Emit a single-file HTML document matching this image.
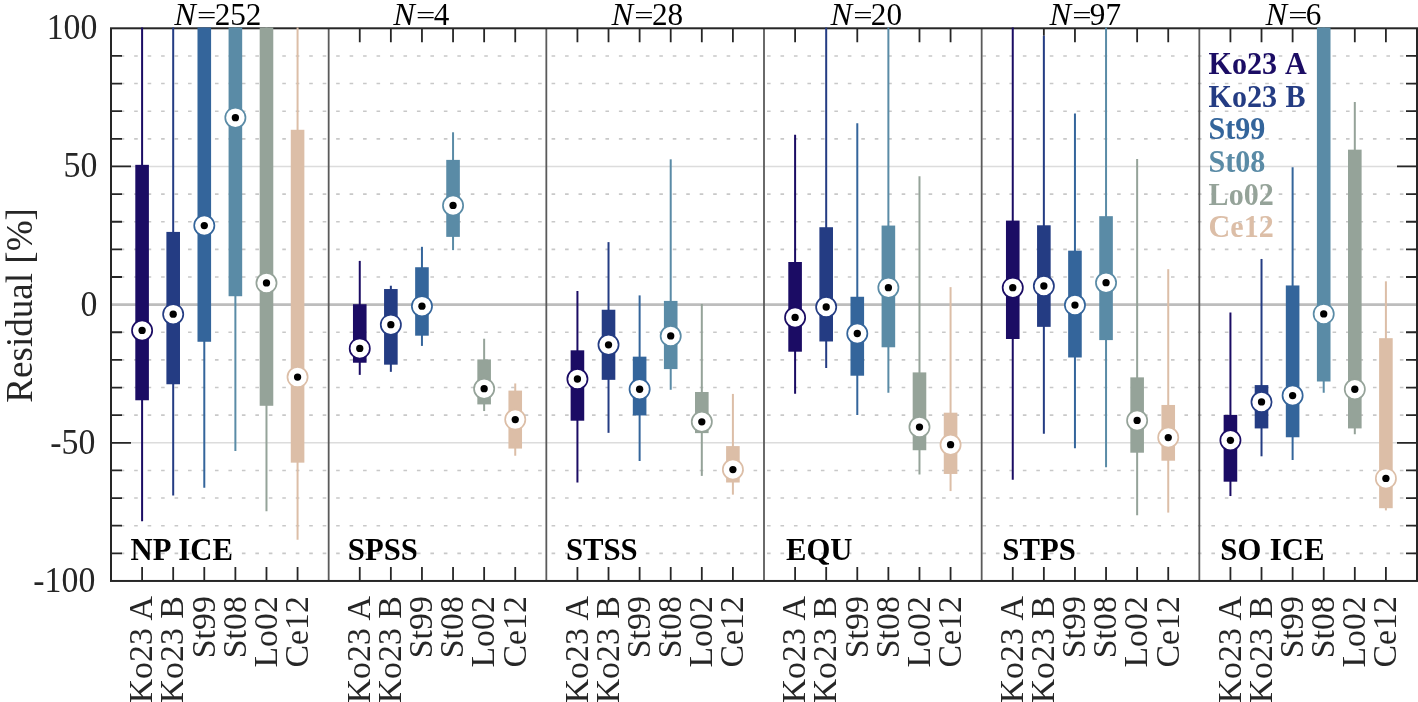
<!DOCTYPE html><html><head><meta charset="utf-8"><style>html,body{margin:0;padding:0;background:#fff;width:1418px;height:702px;overflow:hidden}svg{display:block;will-change:transform}text{font-family:"Liberation Serif",serif}</style></head><body>
<svg width="1418" height="702" viewBox="0 0 1418 702">
<rect x="0" y="0" width="1418" height="702" fill="#fff"/>
<line x1="111.00" y1="553.33" x2="1417.00" y2="553.33" stroke="#c8c8c8" stroke-width="1.6" stroke-dasharray="3.6 9.865" stroke-dashoffset="3.765"/>
<line x1="111.00" y1="525.69" x2="1417.00" y2="525.69" stroke="#c8c8c8" stroke-width="1.6" stroke-dasharray="3.6 9.865" stroke-dashoffset="3.765"/>
<line x1="111.00" y1="498.06" x2="1417.00" y2="498.06" stroke="#c8c8c8" stroke-width="1.6" stroke-dasharray="3.6 9.865" stroke-dashoffset="3.765"/>
<line x1="111.00" y1="470.43" x2="1417.00" y2="470.43" stroke="#c8c8c8" stroke-width="1.6" stroke-dasharray="3.6 9.865" stroke-dashoffset="3.765"/>
<line x1="111.00" y1="415.16" x2="1417.00" y2="415.16" stroke="#c8c8c8" stroke-width="1.6" stroke-dasharray="3.6 9.865" stroke-dashoffset="3.765"/>
<line x1="111.00" y1="387.53" x2="1417.00" y2="387.53" stroke="#c8c8c8" stroke-width="1.6" stroke-dasharray="3.6 9.865" stroke-dashoffset="3.765"/>
<line x1="111.00" y1="359.90" x2="1417.00" y2="359.90" stroke="#c8c8c8" stroke-width="1.6" stroke-dasharray="3.6 9.865" stroke-dashoffset="3.765"/>
<line x1="111.00" y1="332.26" x2="1417.00" y2="332.26" stroke="#c8c8c8" stroke-width="1.6" stroke-dasharray="3.6 9.865" stroke-dashoffset="3.765"/>
<line x1="111.00" y1="277.00" x2="1417.00" y2="277.00" stroke="#c8c8c8" stroke-width="1.6" stroke-dasharray="3.6 9.865" stroke-dashoffset="3.765"/>
<line x1="111.00" y1="249.36" x2="1417.00" y2="249.36" stroke="#c8c8c8" stroke-width="1.6" stroke-dasharray="3.6 9.865" stroke-dashoffset="3.765"/>
<line x1="111.00" y1="221.73" x2="1417.00" y2="221.73" stroke="#c8c8c8" stroke-width="1.6" stroke-dasharray="3.6 9.865" stroke-dashoffset="3.765"/>
<line x1="111.00" y1="194.10" x2="1417.00" y2="194.10" stroke="#c8c8c8" stroke-width="1.6" stroke-dasharray="3.6 9.865" stroke-dashoffset="3.765"/>
<line x1="111.00" y1="138.83" x2="1417.00" y2="138.83" stroke="#c8c8c8" stroke-width="1.6" stroke-dasharray="3.6 9.865" stroke-dashoffset="3.765"/>
<line x1="111.00" y1="111.20" x2="1417.00" y2="111.20" stroke="#c8c8c8" stroke-width="1.6" stroke-dasharray="3.6 9.865" stroke-dashoffset="3.765"/>
<line x1="111.00" y1="83.57" x2="1417.00" y2="83.57" stroke="#c8c8c8" stroke-width="1.6" stroke-dasharray="3.6 9.865" stroke-dashoffset="3.765"/>
<line x1="111.00" y1="55.93" x2="1417.00" y2="55.93" stroke="#c8c8c8" stroke-width="1.6" stroke-dasharray="3.6 9.865" stroke-dashoffset="3.765"/>
<line x1="111.00" y1="442.79" x2="1417.00" y2="442.79" stroke="#dcdcdc" stroke-width="1.6"/>
<line x1="111.00" y1="166.47" x2="1417.00" y2="166.47" stroke="#dcdcdc" stroke-width="1.6"/>
<path d="M111.00 553.33h11M1417.00 553.33h-11M111.00 525.69h11M1417.00 525.69h-11M111.00 498.06h11M1417.00 498.06h-11M111.00 470.43h11M1417.00 470.43h-11M111.00 442.79h20M1417.00 442.79h-20M111.00 415.16h11M1417.00 415.16h-11M111.00 387.53h11M1417.00 387.53h-11M111.00 359.90h11M1417.00 359.90h-11M111.00 332.26h11M1417.00 332.26h-11M111.00 277.00h11M1417.00 277.00h-11M111.00 249.36h11M1417.00 249.36h-11M111.00 221.73h11M1417.00 221.73h-11M111.00 194.10h11M1417.00 194.10h-11M111.00 166.47h20M1417.00 166.47h-20M111.00 138.83h11M1417.00 138.83h-11M111.00 111.20h11M1417.00 111.20h-11M111.00 83.57h11M1417.00 83.57h-11M111.00 55.93h11M1417.00 55.93h-11M142.10 580.96v-14M173.19 580.96v-14M204.29 580.96v-14M235.38 580.96v-14M266.48 580.96v-14M297.57 580.96v-14M359.76 580.96v-14M359.76 28.30v14.00M390.86 580.96v-14M390.86 28.30v14.00M421.95 580.96v-14M421.95 28.30v14.00M453.05 580.96v-14M453.05 28.30v14.00M484.14 580.96v-14M484.14 28.30v14.00M515.24 580.96v-14M515.24 28.30v14.00M577.43 580.96v-14M577.43 28.30v14.00M608.52 580.96v-14M608.52 28.30v14.00M639.62 580.96v-14M639.62 28.30v14.00M670.71 580.96v-14M670.71 28.30v14.00M701.81 580.96v-14M701.81 28.30v14.00M732.90 580.96v-14M732.90 28.30v14.00M795.10 580.96v-14M795.10 28.30v14.00M826.19 580.96v-14M857.29 580.96v-14M857.29 28.30v14.00M888.38 580.96v-14M919.48 580.96v-14M919.48 28.30v14.00M950.57 580.96v-14M950.57 28.30v14.00M1012.76 580.96v-14M1043.86 580.96v-14M1043.86 28.30v7.38M1074.95 580.96v-14M1074.95 28.30v14.00M1106.05 580.96v-14M1137.14 580.96v-14M1137.14 28.30v14.00M1168.24 580.96v-14M1168.24 28.30v14.00M1230.43 580.96v-14M1230.43 28.30v14.00M1261.52 580.96v-14M1261.52 28.30v14.00M1292.62 580.96v-14M1292.62 28.30v14.00M1323.71 580.96v-14M1354.81 580.96v-14M1354.81 28.30v14.00M1385.90 580.96v-14M1385.90 28.30v14.00" stroke="#262626" stroke-width="1.8" fill="none"/>
<line x1="111.00" y1="304.63" x2="1417.00" y2="304.63" stroke="#bdbdbd" stroke-width="2.6"/>
<line x1="328.67" y1="28.30" x2="328.67" y2="580.96" stroke="#5a5a5a" stroke-width="1.8"/>
<line x1="546.33" y1="28.30" x2="546.33" y2="580.96" stroke="#5a5a5a" stroke-width="1.8"/>
<line x1="764.00" y1="28.30" x2="764.00" y2="580.96" stroke="#5a5a5a" stroke-width="1.8"/>
<line x1="981.67" y1="28.30" x2="981.67" y2="580.96" stroke="#5a5a5a" stroke-width="1.8"/>
<line x1="1199.33" y1="28.30" x2="1199.33" y2="580.96" stroke="#5a5a5a" stroke-width="1.8"/>
<rect x="111.00" y="28.30" width="1306.00" height="552.66" fill="none" stroke="#262626" stroke-width="2"/>
<line x1="142.10" y1="521.16" x2="142.10" y2="27.50" stroke="#1b0c64" stroke-width="2"/>
<rect x="135.30" y="164.84" width="13.6" height="235.43" fill="#1b0c64"/>
<line x1="173.19" y1="495.49" x2="173.19" y2="27.50" stroke="#243c83" stroke-width="2"/>
<rect x="166.39" y="231.91" width="13.6" height="152.35" fill="#243c83"/>
<line x1="204.29" y1="487.76" x2="204.29" y2="27.50" stroke="#34659b" stroke-width="2"/>
<rect x="197.49" y="27.50" width="13.6" height="314.26" fill="#34659b"/>
<line x1="235.38" y1="451.06" x2="235.38" y2="27.50" stroke="#5a8ba6" stroke-width="2"/>
<rect x="228.58" y="27.50" width="13.6" height="268.72" fill="#5a8ba6"/>
<line x1="266.48" y1="511.22" x2="266.48" y2="27.50" stroke="#95a399" stroke-width="2"/>
<rect x="259.68" y="27.50" width="13.6" height="378.29" fill="#95a399"/>
<line x1="297.57" y1="539.65" x2="297.57" y2="27.50" stroke="#dcbea7" stroke-width="2"/>
<rect x="290.77" y="129.79" width="13.6" height="332.86" fill="#dcbea7"/>
<line x1="359.76" y1="374.88" x2="359.76" y2="260.89" stroke="#1b0c64" stroke-width="2"/>
<rect x="352.96" y="304.22" width="13.6" height="58.51" fill="#1b0c64"/>
<line x1="390.86" y1="371.84" x2="390.86" y2="285.73" stroke="#243c83" stroke-width="2"/>
<rect x="384.06" y="289.04" width="13.6" height="75.62" fill="#243c83"/>
<line x1="421.95" y1="345.90" x2="421.95" y2="246.82" stroke="#34659b" stroke-width="2"/>
<rect x="415.15" y="267.24" width="13.6" height="68.45" fill="#34659b"/>
<line x1="453.05" y1="250.13" x2="453.05" y2="132.28" stroke="#5a8ba6" stroke-width="2"/>
<rect x="446.25" y="159.88" width="13.6" height="77.00" fill="#5a8ba6"/>
<line x1="484.14" y1="411.04" x2="484.14" y2="338.72" stroke="#95a399" stroke-width="2"/>
<rect x="477.34" y="359.42" width="13.6" height="44.99" fill="#95a399"/>
<line x1="515.24" y1="455.75" x2="515.24" y2="383.44" stroke="#dcbea7" stroke-width="2"/>
<rect x="508.44" y="390.61" width="13.6" height="57.96" fill="#dcbea7"/>
<line x1="577.43" y1="482.52" x2="577.43" y2="290.98" stroke="#1b0c64" stroke-width="2"/>
<rect x="570.63" y="350.32" width="13.6" height="70.38" fill="#1b0c64"/>
<line x1="608.52" y1="432.84" x2="608.52" y2="242.12" stroke="#243c83" stroke-width="2"/>
<rect x="601.72" y="309.74" width="13.6" height="70.10" fill="#243c83"/>
<line x1="639.62" y1="460.99" x2="639.62" y2="295.39" stroke="#34659b" stroke-width="2"/>
<rect x="632.82" y="356.66" width="13.6" height="58.79" fill="#34659b"/>
<line x1="670.71" y1="389.78" x2="670.71" y2="159.32" stroke="#5a8ba6" stroke-width="2"/>
<rect x="663.91" y="300.91" width="13.6" height="68.17" fill="#5a8ba6"/>
<line x1="701.81" y1="475.90" x2="701.81" y2="303.95" stroke="#95a399" stroke-width="2"/>
<rect x="695.01" y="391.99" width="13.6" height="41.12" fill="#95a399"/>
<line x1="732.90" y1="494.66" x2="732.90" y2="393.92" stroke="#dcbea7" stroke-width="2"/>
<rect x="726.10" y="446.09" width="13.6" height="36.43" fill="#dcbea7"/>
<line x1="795.10" y1="393.65" x2="795.10" y2="134.76" stroke="#1b0c64" stroke-width="2"/>
<rect x="788.30" y="262.00" width="13.6" height="89.70" fill="#1b0c64"/>
<line x1="826.19" y1="367.98" x2="826.19" y2="27.50" stroke="#243c83" stroke-width="2"/>
<rect x="819.39" y="227.22" width="13.6" height="114.26" fill="#243c83"/>
<line x1="857.29" y1="414.90" x2="857.29" y2="123.17" stroke="#34659b" stroke-width="2"/>
<rect x="850.49" y="296.77" width="13.6" height="78.94" fill="#34659b"/>
<line x1="888.38" y1="392.82" x2="888.38" y2="27.50" stroke="#5a8ba6" stroke-width="2"/>
<rect x="881.58" y="225.56" width="13.6" height="121.72" fill="#5a8ba6"/>
<line x1="919.48" y1="474.52" x2="919.48" y2="176.16" stroke="#95a399" stroke-width="2"/>
<rect x="912.68" y="372.40" width="13.6" height="77.83" fill="#95a399"/>
<line x1="950.57" y1="491.08" x2="950.57" y2="287.11" stroke="#dcbea7" stroke-width="2"/>
<rect x="943.77" y="412.69" width="13.6" height="61.27" fill="#dcbea7"/>
<line x1="1012.76" y1="479.76" x2="1012.76" y2="27.50" stroke="#1b0c64" stroke-width="2"/>
<rect x="1005.96" y="220.60" width="13.6" height="118.40" fill="#1b0c64"/>
<line x1="1043.86" y1="433.67" x2="1043.86" y2="35.68" stroke="#243c83" stroke-width="2"/>
<rect x="1037.06" y="225.29" width="13.6" height="101.57" fill="#243c83"/>
<line x1="1074.95" y1="448.30" x2="1074.95" y2="113.51" stroke="#34659b" stroke-width="2"/>
<rect x="1068.15" y="250.68" width="13.6" height="106.81" fill="#34659b"/>
<line x1="1106.05" y1="467.34" x2="1106.05" y2="27.50" stroke="#5a8ba6" stroke-width="2"/>
<rect x="1099.25" y="216.18" width="13.6" height="123.92" fill="#5a8ba6"/>
<line x1="1137.14" y1="515.36" x2="1137.14" y2="159.05" stroke="#95a399" stroke-width="2"/>
<rect x="1130.34" y="377.36" width="13.6" height="75.35" fill="#95a399"/>
<line x1="1168.24" y1="512.60" x2="1168.24" y2="269.17" stroke="#dcbea7" stroke-width="2"/>
<rect x="1161.44" y="404.96" width="13.6" height="55.75" fill="#dcbea7"/>
<line x1="1230.43" y1="496.04" x2="1230.43" y2="312.50" stroke="#1b0c64" stroke-width="2"/>
<rect x="1223.63" y="414.90" width="13.6" height="66.79" fill="#1b0c64"/>
<line x1="1261.52" y1="456.30" x2="1261.52" y2="258.96" stroke="#243c83" stroke-width="2"/>
<rect x="1254.72" y="385.09" width="13.6" height="43.33" fill="#243c83"/>
<line x1="1292.62" y1="459.89" x2="1292.62" y2="167.33" stroke="#34659b" stroke-width="2"/>
<rect x="1285.82" y="285.46" width="13.6" height="151.80" fill="#34659b"/>
<line x1="1323.71" y1="392.82" x2="1323.71" y2="27.50" stroke="#5a8ba6" stroke-width="2"/>
<rect x="1316.91" y="27.50" width="13.6" height="354.00" fill="#5a8ba6"/>
<line x1="1354.81" y1="434.22" x2="1354.81" y2="101.92" stroke="#95a399" stroke-width="2"/>
<rect x="1348.01" y="149.66" width="13.6" height="278.76" fill="#95a399"/>
<line x1="1385.90" y1="510.40" x2="1385.90" y2="281.32" stroke="#dcbea7" stroke-width="2"/>
<rect x="1379.10" y="338.17" width="13.6" height="170.02" fill="#dcbea7"/>
<ellipse cx="142.10" cy="330.44" rx="10.1" ry="10.1" fill="#fff" stroke="#1b0c64" stroke-width="1.7"/>
<circle cx="142.10" cy="330.44" r="3.65" fill="#000"/>
<ellipse cx="173.19" cy="314.16" rx="10.1" ry="10.1" fill="#fff" stroke="#243c83" stroke-width="1.7"/>
<circle cx="173.19" cy="314.16" r="3.65" fill="#000"/>
<ellipse cx="204.29" cy="225.56" rx="10.1" ry="10.1" fill="#fff" stroke="#34659b" stroke-width="1.7"/>
<circle cx="204.29" cy="225.56" r="3.65" fill="#000"/>
<ellipse cx="235.38" cy="117.65" rx="10.1" ry="10.1" fill="#fff" stroke="#5a8ba6" stroke-width="1.7"/>
<circle cx="235.38" cy="117.65" r="3.65" fill="#000"/>
<ellipse cx="266.48" cy="282.97" rx="10.1" ry="10.1" fill="#fff" stroke="#95a399" stroke-width="1.7"/>
<circle cx="266.48" cy="282.97" r="3.65" fill="#000"/>
<ellipse cx="297.57" cy="377.09" rx="10.1" ry="10.1" fill="#fff" stroke="#dcbea7" stroke-width="1.7"/>
<circle cx="297.57" cy="377.09" r="3.65" fill="#000"/>
<ellipse cx="359.76" cy="348.38" rx="10.1" ry="10.1" fill="#fff" stroke="#1b0c64" stroke-width="1.7"/>
<circle cx="359.76" cy="348.38" r="3.65" fill="#000"/>
<ellipse cx="390.86" cy="324.65" rx="10.1" ry="10.1" fill="#fff" stroke="#243c83" stroke-width="1.7"/>
<circle cx="390.86" cy="324.65" r="3.65" fill="#000"/>
<ellipse cx="421.95" cy="306.16" rx="10.1" ry="10.1" fill="#fff" stroke="#34659b" stroke-width="1.7"/>
<circle cx="421.95" cy="306.16" r="3.65" fill="#000"/>
<ellipse cx="453.05" cy="205.42" rx="10.1" ry="10.1" fill="#fff" stroke="#5a8ba6" stroke-width="1.7"/>
<circle cx="453.05" cy="205.42" r="3.65" fill="#000"/>
<ellipse cx="484.14" cy="388.68" rx="10.1" ry="10.1" fill="#fff" stroke="#95a399" stroke-width="1.7"/>
<circle cx="484.14" cy="388.68" r="3.65" fill="#000"/>
<ellipse cx="515.24" cy="419.59" rx="10.1" ry="10.1" fill="#fff" stroke="#dcbea7" stroke-width="1.7"/>
<circle cx="515.24" cy="419.59" r="3.65" fill="#000"/>
<ellipse cx="577.43" cy="379.02" rx="10.1" ry="10.1" fill="#fff" stroke="#1b0c64" stroke-width="1.7"/>
<circle cx="577.43" cy="379.02" r="3.65" fill="#000"/>
<ellipse cx="608.52" cy="344.80" rx="10.1" ry="10.1" fill="#fff" stroke="#243c83" stroke-width="1.7"/>
<circle cx="608.52" cy="344.80" r="3.65" fill="#000"/>
<ellipse cx="639.62" cy="389.23" rx="10.1" ry="10.1" fill="#fff" stroke="#34659b" stroke-width="1.7"/>
<circle cx="639.62" cy="389.23" r="3.65" fill="#000"/>
<ellipse cx="670.71" cy="335.96" rx="10.1" ry="10.1" fill="#fff" stroke="#5a8ba6" stroke-width="1.7"/>
<circle cx="670.71" cy="335.96" r="3.65" fill="#000"/>
<ellipse cx="701.81" cy="421.80" rx="10.1" ry="10.1" fill="#fff" stroke="#95a399" stroke-width="1.7"/>
<circle cx="701.81" cy="421.80" r="3.65" fill="#000"/>
<ellipse cx="732.90" cy="469.55" rx="10.1" ry="10.1" fill="#fff" stroke="#dcbea7" stroke-width="1.7"/>
<circle cx="732.90" cy="469.55" r="3.65" fill="#000"/>
<ellipse cx="795.10" cy="317.47" rx="10.1" ry="10.1" fill="#fff" stroke="#1b0c64" stroke-width="1.7"/>
<circle cx="795.10" cy="317.47" r="3.65" fill="#000"/>
<ellipse cx="826.19" cy="306.98" rx="10.1" ry="10.1" fill="#fff" stroke="#243c83" stroke-width="1.7"/>
<circle cx="826.19" cy="306.98" r="3.65" fill="#000"/>
<ellipse cx="857.29" cy="333.48" rx="10.1" ry="10.1" fill="#fff" stroke="#34659b" stroke-width="1.7"/>
<circle cx="857.29" cy="333.48" r="3.65" fill="#000"/>
<ellipse cx="888.38" cy="287.66" rx="10.1" ry="10.1" fill="#fff" stroke="#5a8ba6" stroke-width="1.7"/>
<circle cx="888.38" cy="287.66" r="3.65" fill="#000"/>
<ellipse cx="919.48" cy="427.04" rx="10.1" ry="10.1" fill="#fff" stroke="#95a399" stroke-width="1.7"/>
<circle cx="919.48" cy="427.04" r="3.65" fill="#000"/>
<ellipse cx="950.57" cy="444.71" rx="10.1" ry="10.1" fill="#fff" stroke="#dcbea7" stroke-width="1.7"/>
<circle cx="950.57" cy="444.71" r="3.65" fill="#000"/>
<ellipse cx="1012.76" cy="287.66" rx="10.1" ry="10.1" fill="#fff" stroke="#1b0c64" stroke-width="1.7"/>
<circle cx="1012.76" cy="287.66" r="3.65" fill="#000"/>
<ellipse cx="1043.86" cy="286.01" rx="10.1" ry="10.1" fill="#fff" stroke="#243c83" stroke-width="1.7"/>
<circle cx="1043.86" cy="286.01" r="3.65" fill="#000"/>
<ellipse cx="1074.95" cy="305.05" rx="10.1" ry="10.1" fill="#fff" stroke="#34659b" stroke-width="1.7"/>
<circle cx="1074.95" cy="305.05" r="3.65" fill="#000"/>
<ellipse cx="1106.05" cy="282.70" rx="10.1" ry="10.1" fill="#fff" stroke="#5a8ba6" stroke-width="1.7"/>
<circle cx="1106.05" cy="282.70" r="3.65" fill="#000"/>
<ellipse cx="1137.14" cy="420.42" rx="10.1" ry="10.1" fill="#fff" stroke="#95a399" stroke-width="1.7"/>
<circle cx="1137.14" cy="420.42" r="3.65" fill="#000"/>
<ellipse cx="1168.24" cy="437.53" rx="10.1" ry="10.1" fill="#fff" stroke="#dcbea7" stroke-width="1.7"/>
<circle cx="1168.24" cy="437.53" r="3.65" fill="#000"/>
<ellipse cx="1230.43" cy="440.29" rx="10.1" ry="10.1" fill="#fff" stroke="#1b0c64" stroke-width="1.7"/>
<circle cx="1230.43" cy="440.29" r="3.65" fill="#000"/>
<ellipse cx="1261.52" cy="401.93" rx="10.1" ry="10.1" fill="#fff" stroke="#243c83" stroke-width="1.7"/>
<circle cx="1261.52" cy="401.93" r="3.65" fill="#000"/>
<ellipse cx="1292.62" cy="395.58" rx="10.1" ry="10.1" fill="#fff" stroke="#34659b" stroke-width="1.7"/>
<circle cx="1292.62" cy="395.58" r="3.65" fill="#000"/>
<ellipse cx="1323.71" cy="313.88" rx="10.1" ry="10.1" fill="#fff" stroke="#5a8ba6" stroke-width="1.7"/>
<circle cx="1323.71" cy="313.88" r="3.65" fill="#000"/>
<ellipse cx="1354.81" cy="389.23" rx="10.1" ry="10.1" fill="#fff" stroke="#95a399" stroke-width="1.7"/>
<circle cx="1354.81" cy="389.23" r="3.65" fill="#000"/>
<ellipse cx="1385.90" cy="478.38" rx="10.1" ry="10.1" fill="#fff" stroke="#dcbea7" stroke-width="1.7"/>
<circle cx="1385.90" cy="478.38" r="3.65" fill="#000"/>
<text transform="translate(97.4 39.20) scale(0.966 1)" font-size="35.0" text-anchor="end" fill="#262626">100</text>
<text transform="translate(97.4 177.37) scale(0.966 1)" font-size="35.0" text-anchor="end" fill="#262626">50</text>
<text transform="translate(97.4 315.53) scale(0.966 1)" font-size="35.0" text-anchor="end" fill="#262626">0</text>
<text transform="translate(95.3 453.69) scale(0.966 1)" font-size="35.0" text-anchor="end" fill="#262626">-50</text>
<text transform="translate(95.3 591.86) scale(0.966 1)" font-size="35.0" text-anchor="end" fill="#262626">-100</text>
<text transform="translate(32.4 402.77) rotate(-90) scale(0.964 1)" font-size="38.5" fill="#262626">Residual [%]</text>
<text transform="translate(174.24 25.4) scale(1.04 1)" font-size="31.2" font-style="italic" fill="#000">N</text>
<text transform="translate(197.04 23.50) scale(1.1 0.78)" font-size="31.2" fill="#000">=</text>
<text x="214.63" y="25.4" font-size="31.2" fill="#000">252</text>
<text transform="translate(393.29 25.4) scale(1.04 1)" font-size="31.2" font-style="italic" fill="#000">N</text>
<text transform="translate(416.09 23.50) scale(1.1 0.78)" font-size="31.2" fill="#000">=</text>
<text x="433.68" y="25.4" font-size="31.2" fill="#000">4</text>
<text transform="translate(611.54 25.4) scale(1.04 1)" font-size="31.2" font-style="italic" fill="#000">N</text>
<text transform="translate(634.34 23.50) scale(1.1 0.78)" font-size="31.2" fill="#000">=</text>
<text x="651.93" y="25.4" font-size="31.2" fill="#000">28</text>
<text transform="translate(830.44 25.4) scale(1.04 1)" font-size="31.2" font-style="italic" fill="#000">N</text>
<text transform="translate(853.24 23.50) scale(1.1 0.78)" font-size="31.2" fill="#000">=</text>
<text x="870.83" y="25.4" font-size="31.2" fill="#000">20</text>
<text transform="translate(1049.44 25.4) scale(1.04 1)" font-size="31.2" font-style="italic" fill="#000">N</text>
<text transform="translate(1072.24 23.50) scale(1.1 0.78)" font-size="31.2" fill="#000">=</text>
<text x="1089.83" y="25.4" font-size="31.2" fill="#000">97</text>
<text transform="translate(1265.44 25.4) scale(1.04 1)" font-size="31.2" font-style="italic" fill="#000">N</text>
<text transform="translate(1288.24 23.50) scale(1.1 0.78)" font-size="31.2" fill="#000">=</text>
<text x="1305.83" y="25.4" font-size="31.2" fill="#000">6</text>
<text transform="translate(130.52 559.8) scale(0.975 1)" font-size="31.5" font-weight="bold" word-spacing="0.9" fill="#000">NP ICE</text>
<text transform="translate(347.87 559.8) scale(0.975 1)" font-size="31.5" font-weight="bold" word-spacing="0.9" fill="#000">SPSS</text>
<text transform="translate(565.97 559.8) scale(0.975 1)" font-size="31.5" font-weight="bold" word-spacing="0.9" fill="#000">STSS</text>
<text transform="translate(785.97 559.8) scale(0.975 1)" font-size="31.5" font-weight="bold" word-spacing="0.9" fill="#000">EQU</text>
<text transform="translate(1002.37 559.8) scale(0.975 1)" font-size="31.5" font-weight="bold" word-spacing="0.9" fill="#000">STPS</text>
<text transform="translate(1220.37 559.8) scale(0.975 1)" font-size="31.5" font-weight="bold" word-spacing="0.9" fill="#000">SO ICE</text>
<text transform="translate(152.40 596.2) rotate(-90) scale(1.0 1)" font-size="33.8" word-spacing="1.0" text-anchor="end" fill="#262626">Ko23 A</text>
<text transform="translate(183.49 596.2) rotate(-90) scale(1.0 1)" font-size="33.8" word-spacing="1.0" text-anchor="end" fill="#262626">Ko23 B</text>
<text transform="translate(214.59 596.2) rotate(-90) scale(1.0 1)" font-size="33.8" word-spacing="1.0" text-anchor="end" fill="#262626">St99</text>
<text transform="translate(245.68 596.2) rotate(-90) scale(1.0 1)" font-size="33.8" word-spacing="1.0" text-anchor="end" fill="#262626">St08</text>
<text transform="translate(276.78 596.2) rotate(-90) scale(1.0 1)" font-size="33.8" word-spacing="1.0" text-anchor="end" fill="#262626">Lo02</text>
<text transform="translate(307.87 596.2) rotate(-90) scale(1.0 1)" font-size="33.8" word-spacing="1.0" text-anchor="end" fill="#262626">Ce12</text>
<text transform="translate(370.06 596.2) rotate(-90) scale(1.0 1)" font-size="33.8" word-spacing="1.0" text-anchor="end" fill="#262626">Ko23 A</text>
<text transform="translate(401.16 596.2) rotate(-90) scale(1.0 1)" font-size="33.8" word-spacing="1.0" text-anchor="end" fill="#262626">Ko23 B</text>
<text transform="translate(432.25 596.2) rotate(-90) scale(1.0 1)" font-size="33.8" word-spacing="1.0" text-anchor="end" fill="#262626">St99</text>
<text transform="translate(463.35 596.2) rotate(-90) scale(1.0 1)" font-size="33.8" word-spacing="1.0" text-anchor="end" fill="#262626">St08</text>
<text transform="translate(494.44 596.2) rotate(-90) scale(1.0 1)" font-size="33.8" word-spacing="1.0" text-anchor="end" fill="#262626">Lo02</text>
<text transform="translate(525.54 596.2) rotate(-90) scale(1.0 1)" font-size="33.8" word-spacing="1.0" text-anchor="end" fill="#262626">Ce12</text>
<text transform="translate(587.73 596.2) rotate(-90) scale(1.0 1)" font-size="33.8" word-spacing="1.0" text-anchor="end" fill="#262626">Ko23 A</text>
<text transform="translate(618.82 596.2) rotate(-90) scale(1.0 1)" font-size="33.8" word-spacing="1.0" text-anchor="end" fill="#262626">Ko23 B</text>
<text transform="translate(649.92 596.2) rotate(-90) scale(1.0 1)" font-size="33.8" word-spacing="1.0" text-anchor="end" fill="#262626">St99</text>
<text transform="translate(681.01 596.2) rotate(-90) scale(1.0 1)" font-size="33.8" word-spacing="1.0" text-anchor="end" fill="#262626">St08</text>
<text transform="translate(712.11 596.2) rotate(-90) scale(1.0 1)" font-size="33.8" word-spacing="1.0" text-anchor="end" fill="#262626">Lo02</text>
<text transform="translate(743.20 596.2) rotate(-90) scale(1.0 1)" font-size="33.8" word-spacing="1.0" text-anchor="end" fill="#262626">Ce12</text>
<text transform="translate(805.40 596.2) rotate(-90) scale(1.0 1)" font-size="33.8" word-spacing="1.0" text-anchor="end" fill="#262626">Ko23 A</text>
<text transform="translate(836.49 596.2) rotate(-90) scale(1.0 1)" font-size="33.8" word-spacing="1.0" text-anchor="end" fill="#262626">Ko23 B</text>
<text transform="translate(867.59 596.2) rotate(-90) scale(1.0 1)" font-size="33.8" word-spacing="1.0" text-anchor="end" fill="#262626">St99</text>
<text transform="translate(898.68 596.2) rotate(-90) scale(1.0 1)" font-size="33.8" word-spacing="1.0" text-anchor="end" fill="#262626">St08</text>
<text transform="translate(929.78 596.2) rotate(-90) scale(1.0 1)" font-size="33.8" word-spacing="1.0" text-anchor="end" fill="#262626">Lo02</text>
<text transform="translate(960.87 596.2) rotate(-90) scale(1.0 1)" font-size="33.8" word-spacing="1.0" text-anchor="end" fill="#262626">Ce12</text>
<text transform="translate(1023.06 596.2) rotate(-90) scale(1.0 1)" font-size="33.8" word-spacing="1.0" text-anchor="end" fill="#262626">Ko23 A</text>
<text transform="translate(1054.16 596.2) rotate(-90) scale(1.0 1)" font-size="33.8" word-spacing="1.0" text-anchor="end" fill="#262626">Ko23 B</text>
<text transform="translate(1085.25 596.2) rotate(-90) scale(1.0 1)" font-size="33.8" word-spacing="1.0" text-anchor="end" fill="#262626">St99</text>
<text transform="translate(1116.35 596.2) rotate(-90) scale(1.0 1)" font-size="33.8" word-spacing="1.0" text-anchor="end" fill="#262626">St08</text>
<text transform="translate(1147.44 596.2) rotate(-90) scale(1.0 1)" font-size="33.8" word-spacing="1.0" text-anchor="end" fill="#262626">Lo02</text>
<text transform="translate(1178.54 596.2) rotate(-90) scale(1.0 1)" font-size="33.8" word-spacing="1.0" text-anchor="end" fill="#262626">Ce12</text>
<text transform="translate(1240.73 596.2) rotate(-90) scale(1.0 1)" font-size="33.8" word-spacing="1.0" text-anchor="end" fill="#262626">Ko23 A</text>
<text transform="translate(1271.82 596.2) rotate(-90) scale(1.0 1)" font-size="33.8" word-spacing="1.0" text-anchor="end" fill="#262626">Ko23 B</text>
<text transform="translate(1302.92 596.2) rotate(-90) scale(1.0 1)" font-size="33.8" word-spacing="1.0" text-anchor="end" fill="#262626">St99</text>
<text transform="translate(1334.01 596.2) rotate(-90) scale(1.0 1)" font-size="33.8" word-spacing="1.0" text-anchor="end" fill="#262626">St08</text>
<text transform="translate(1365.11 596.2) rotate(-90) scale(1.0 1)" font-size="33.8" word-spacing="1.0" text-anchor="end" fill="#262626">Lo02</text>
<text transform="translate(1396.20 596.2) rotate(-90) scale(1.0 1)" font-size="33.8" word-spacing="1.0" text-anchor="end" fill="#262626">Ce12</text>
<text transform="translate(1208.59 73.90) scale(0.955 1)" font-size="31.5" font-weight="bold" word-spacing="2.2" fill="#1b0c64">Ko23 A</text>
<text transform="translate(1208.59 106.60) scale(0.955 1)" font-size="31.5" font-weight="bold" word-spacing="1.0" fill="#243c83">Ko23 B</text>
<text transform="translate(1208.59 139.30) scale(0.955 1)" font-size="31.5" font-weight="bold" word-spacing="0" fill="#34659b">St99</text>
<text transform="translate(1208.59 172.00) scale(0.955 1)" font-size="31.5" font-weight="bold" word-spacing="0" fill="#5a8ba6">St08</text>
<text transform="translate(1208.59 204.70) scale(0.955 1)" font-size="31.5" font-weight="bold" word-spacing="0" fill="#95a399">Lo02</text>
<text transform="translate(1208.59 237.40) scale(0.955 1)" font-size="31.5" font-weight="bold" word-spacing="0" fill="#dcbea7">Ce12</text>
</svg></body></html>
